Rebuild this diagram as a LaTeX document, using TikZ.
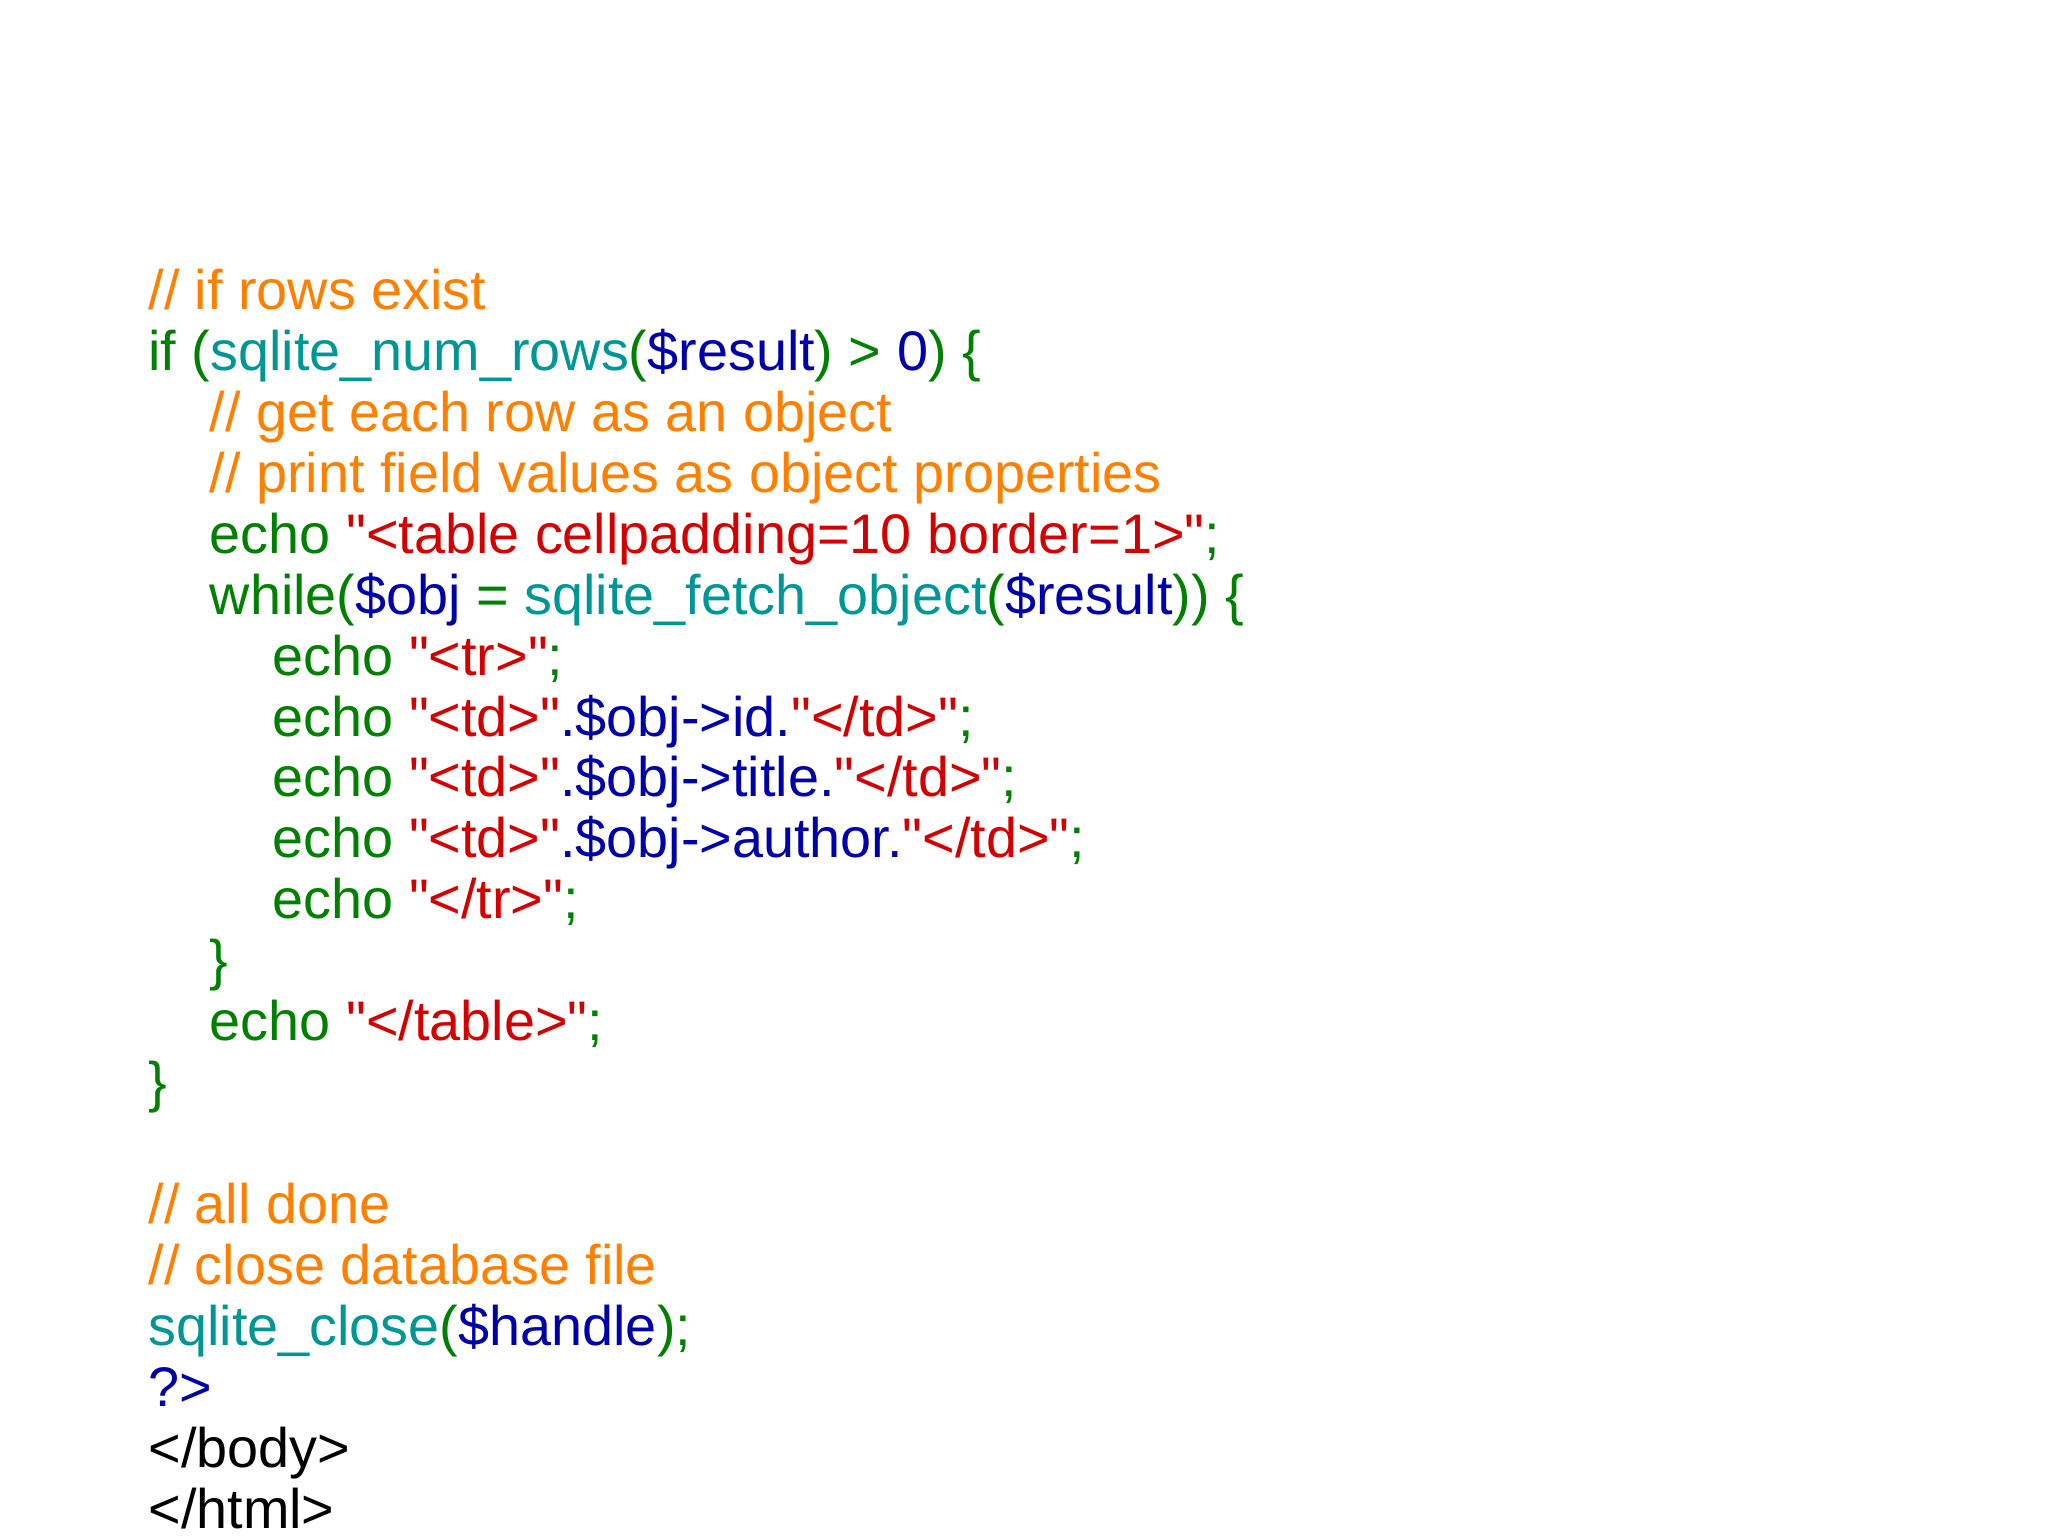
\documentclass[tikz,border=0pt]{standalone}
\usepackage{fontspec}
\setmainfont{Liberation Sans}[Ligatures=TeXOff]
\definecolor{cor}{RGB}{255,128,0}
\definecolor{cgr}{RGB}{0,128,0}
\definecolor{ctl}{RGB}{0,150,150}
\definecolor{cbl}{RGB}{0,0,170}
\definecolor{crd}{RGB}{210,0,0}
\newcommand{\Or}[1]{\textcolor{cor}{#1}}
\newcommand{\Gr}[1]{\textcolor{cgr}{#1}}
\newcommand{\Tl}[1]{\textcolor{ctl}{#1}}
\newcommand{\Bl}[1]{\textcolor{cbl}{#1}}
\newcommand{\Rd}[1]{\textcolor{crd}{#1}}
\begin{document}
\begin{tikzpicture}[x=1cm,y=1cm,
  code/.style={anchor=base west,inner sep=0pt,font=\fontsize{12.15pt}{14pt}\selectfont}]
\useasboundingbox (0,0) rectangle (15.68,-11.76);
\def\ln#1{-2.37-0.4665*(#1-1)}
\node[code] (l1) at (1.13,{\ln{1}}) {\Or{// if rows exist}};
\node[code] (l2) at (1.13,{\ln{2}}) {\Gr{if (}\Tl{sqlite\_num\_rows}\Gr{(}\Bl{\$result}\Gr{)~>~}\Bl{0}\Gr{) \{}};
\node[code] (l3) at (1.60,{\ln{3}}) {\Or{// get each row as an object}};
\node[code] (l4) at (1.60,{\ln{4}}) {\Or{// print field values as object properties}};
\node[code] (l5) at (1.60,{\ln{5}}) {\Gr{echo }\Rd{"<table cellpadding=10 border=1>"}\Gr{;}};
\node[code] (l6) at (1.60,{\ln{6}}) {\Gr{while(}\Bl{\$obj}\Gr{~=~}\Tl{sqlite\_fetch\_object}\Gr{(}\Bl{\$result}\Gr{)) \{}};
\node[code] (l7) at (2.08,{\ln{7}}) {\Gr{echo }\Rd{"<tr>"}\Gr{;}};
\node[code] (l8) at (2.08,{\ln{8}}) {\Gr{echo }\Rd{"<td>"}\Bl{.\$obj->id.}\Rd{"</td>"}\Gr{;}};
\node[code] (l9) at (2.08,{\ln{9}}) {\Gr{echo }\Rd{"<td>"}\Bl{.\$obj->title.}\Rd{"</td>"}\Gr{;}};
\node[code] (l10) at (2.08,{\ln{10}}) {\Gr{echo }\Rd{"<td>"}\Bl{.\$obj->author.}\Rd{"</td>"}\Gr{;}};
\node[code] (l11) at (2.08,{\ln{11}}) {\Gr{echo }\Rd{"</tr>"}\Gr{;}};
\node[code] (l12) at (1.60,{\ln{12}}) {\Gr{\}}};
\node[code] (l13) at (1.60,{\ln{13}}) {\Gr{echo }\Rd{"</table>"}\Gr{;}};
\node[code] (l14) at (1.13,{\ln{14}}) {\Gr{\}}};
\node[code] (l16) at (1.13,{\ln{16}}) {\Or{// all done}};
\node[code] (l17) at (1.13,{\ln{17}}) {\Or{// close database file}};
\node[code] (l18) at (1.13,{\ln{18}}) {\Tl{sqlite\_close}\Gr{(}\Bl{\$handle}\Gr{);}};
\node[code] (l19) at (1.13,{\ln{19}}) {\Bl{?>}};
\node[code] (l20) at (1.13,{\ln{20}}) {</body>};
\node[code] (l21) at (1.13,{\ln{21}}) {</html>};
\end{tikzpicture}
\end{document}
